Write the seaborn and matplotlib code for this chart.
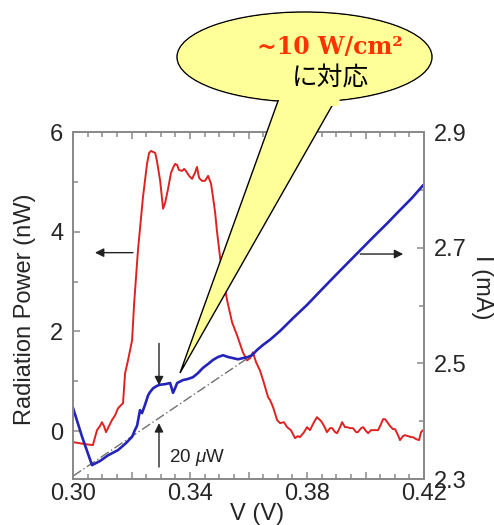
import numpy as np
import pandas as pd
import matplotlib
matplotlib.use("Agg")
import matplotlib.pyplot as plt
from matplotlib.patches import Ellipse, Polygon
from matplotlib.ticker import FixedLocator, FixedFormatter, MultipleLocator
import seaborn as sns

# ---- radiation power (left axis, nW) ----
v_power = [0.3000, 0.3041, 0.3068, 0.3082, 0.3092, 0.3099, 0.3106, 0.3113, 0.3123, 0.3133,
           0.3144, 0.3154, 0.3164, 0.3171, 0.3178, 0.3188, 0.3202, 0.3209, 0.3222, 0.3239,
           0.3253, 0.3260, 0.3267, 0.3274, 0.3281, 0.3287, 0.3298, 0.3308, 0.3315, 0.3325,
           0.3335, 0.3342, 0.3349, 0.3356, 0.3362, 0.3373, 0.3380, 0.3386, 0.3397, 0.3407,
           0.3417, 0.3424, 0.3431, 0.3441, 0.3451, 0.3462, 0.3472, 0.3479, 0.3486, 0.3492,
           0.3503, 0.3513, 0.3527, 0.3544, 0.3561, 0.3581, 0.3595, 0.3605, 0.3615, 0.3626,
           0.3639, 0.3650, 0.3660, 0.3667, 0.3674, 0.3684, 0.3698, 0.3708, 0.3721, 0.3732,
           0.3745, 0.3759, 0.3769, 0.3776, 0.3790, 0.3800, 0.3810, 0.3824, 0.3834, 0.3845,
           0.3851, 0.3862, 0.3868, 0.3879, 0.3886, 0.3896, 0.3903, 0.3913, 0.3920, 0.3930,
           0.3937, 0.3947, 0.3957, 0.3968, 0.3974, 0.3985, 0.3992, 0.4002, 0.4009, 0.4019,
           0.4026, 0.4036, 0.4043, 0.4053, 0.4060, 0.4067, 0.4077, 0.4084, 0.4094, 0.4101,
           0.4111, 0.4118, 0.4128, 0.4135, 0.4145, 0.4156, 0.4162, 0.4173, 0.4183, 0.4190,
           0.4197]
power_nw = [-0.22, -0.26, -0.28, 0.02, 0.10, 0.18, 0.10, -0.02, 0.10, 0.22,
            0.32, 0.46, 0.52, 0.56, 1.16, 1.42, 1.82, 2.56, 3.62, 4.68,
            5.36, 5.58, 5.62, 5.60, 5.58, 5.42, 5.02, 4.46, 4.58, 4.86,
            5.18, 5.28, 5.36, 5.34, 5.24, 5.22, 5.26, 5.22, 5.12, 5.06,
            5.18, 5.30, 5.08, 5.02, 5.02, 5.12, 4.96, 4.68, 4.38, 4.02,
            3.48, 3.08, 2.62, 2.18, 1.92, 1.58, 1.42, 1.46, 1.58, 1.38,
            1.22, 1.02, 0.82, 0.68, 0.62, 0.48, 0.22, 0.16, 0.18, 0.08,
            0.02, -0.14, -0.10, -0.12, -0.02, 0.08, 0.02, 0.18, 0.28, 0.22,
            0.18, 0.06, -0.02, 0.06, 0.06, -0.02, -0.04, 0.08, 0.18, 0.08,
            0.08, 0.06, 0.06, -0.02, -0.02, 0.06, 0.08, 0.00, -0.04, 0.02,
            0.02, 0.02, 0.02, 0.14, 0.24, 0.24, 0.16, 0.10, 0.04, 0.04,
            -0.08, -0.18, -0.10, -0.08, -0.10, -0.12, -0.12, -0.16, -0.18, -0.02,
            0.02]

# ---- current (right axis, mA) ----
v_current = [0.3000, 0.3031, 0.3065, 0.3092, 0.3120, 0.3154, 0.3181, 0.3202, 0.3212, 0.3219,
             0.3229, 0.3236, 0.3246, 0.3257, 0.3263, 0.3274, 0.3287, 0.3297, 0.3315, 0.3332,
             0.3342, 0.3349, 0.3356, 0.3376, 0.3393, 0.3410, 0.3427, 0.3444, 0.3462, 0.3479,
             0.3496, 0.3513, 0.3530, 0.3547, 0.3564, 0.3581, 0.3598, 0.3612, 0.3629, 0.3650,
             0.3674, 0.3708, 0.3752, 0.3800, 0.3855, 0.3903, 0.3940, 0.3981, 0.4026,
             0.4074, 0.4118, 0.4159, 0.4197]
current_ma = [2.423, 2.373, 2.324, 2.331, 2.341, 2.350, 2.362, 2.373, 2.385, 2.392,
              2.419, 2.414, 2.428, 2.445, 2.450, 2.457, 2.461, 2.463, 2.464, 2.466,
              2.449, 2.457, 2.466, 2.471, 2.473, 2.476, 2.483, 2.492, 2.499, 2.506,
              2.511, 2.514, 2.511, 2.509, 2.507, 2.509, 2.511, 2.514, 2.523, 2.532,
              2.541, 2.556, 2.578, 2.601, 2.630, 2.655, 2.674, 2.695, 2.718,
              2.742, 2.765, 2.786, 2.808]

# ohmic baseline of the I-V curve
v_base = [0.3000, 0.3612]
current_base = [2.305, 2.514]

x_ticks = [0.30, 0.32, 0.34, 0.36, 0.38, 0.40, 0.42]
x_ticklabels = ["0.30", "", "0.34", "", "0.38", "", "0.42"]
left_ticks = [0, 2, 4, 6]
right_ticks = [2.3, 2.5, 2.7, 2.9]
right_ticklabels = ["2.3", "2.5", "2.7", "2.9"]

sns.set_theme(style="white")
plt.rcParams["font.family"] = ["Liberation Sans", "DejaVu Sans"]
plt.rcParams["mathtext.fontset"] = "custom"
plt.rcParams["mathtext.it"] = "Liberation Sans:italic"
plt.rcParams["mathtext.rm"] = "Liberation Sans"

W, H = 494, 525
fig = plt.figure(figsize=(W / 100, H / 100), dpi=100)
fig.patch.set_facecolor("white")
ax = fig.add_axes([73 / W, 1 - 479 / H, 351 / W, 347 / H])
ax2 = ax.twinx()

power_df = pd.DataFrame({"V": v_power, "P": power_nw})
current_df = pd.DataFrame({"V": v_current, "I": current_ma})

sns.lineplot(data=power_df, x="V", y="P", ax=ax, color="#dd2222", lw=1.4,
             sort=False, estimator=None)
ax2.plot(v_base, current_base, color="#707070", lw=1.0, dashes=(7, 2, 1, 2))
sns.lineplot(data=current_df, x="V", y="I", ax=ax2, color="#2424b8", lw=1.9,
             sort=False, estimator=None)

ax.set_xlim(0.30, 0.42)
ax.set_ylim(-0.96, 6.0)
ax2.set_ylim(2.3, 2.9)

spine_col = "#8a8a8a"
for a in (ax, ax2):
    for s in a.spines.values():
        s.set_color(spine_col)
        s.set_linewidth(1.3)

ax.xaxis.set_major_locator(FixedLocator(x_ticks))
ax.xaxis.set_major_formatter(FixedFormatter(x_ticklabels))
ax.xaxis.set_minor_locator(MultipleLocator(0.005))
ax.yaxis.set_major_locator(FixedLocator(left_ticks))
ax.yaxis.set_minor_locator(MultipleLocator(1))
ax2.yaxis.set_major_locator(FixedLocator(right_ticks))
ax2.yaxis.set_major_formatter(FixedFormatter(right_ticklabels))
ax2.yaxis.set_minor_locator(MultipleLocator(0.1))

ax.tick_params(axis="x", which="both", direction="in", top=True, bottom=True,
               color=spine_col, labelsize=17, pad=3)
ax.tick_params(axis="y", which="both", direction="in", left=True, right=False,
               color=spine_col, labelsize=17, pad=7)
ax2.tick_params(axis="y", which="both", direction="in", right=True,
                color=spine_col, labelsize=17, pad=7)
for a in (ax, ax2):
    a.tick_params(which="major", length=5, width=1.1)
    a.tick_params(which="minor", length=3.5, width=1.1)

ax.set_xlabel("V (V)", fontsize=17)
ax.xaxis.set_label_coords(0.524, -0.068)
ax.set_ylabel("Radiation Power (nW)", fontsize=17, va="center")
ax.yaxis.set_label_coords(-0.137, 0.49)
ax2.set_ylabel("I (mA)", fontsize=17, rotation=-90, va="center", ha="center")
ax2.yaxis.set_label_coords(1.165, 0.553)

arrow = dict(arrowstyle="-|>", color="#222222", lw=1.0, mutation_scale=13,
             shrinkA=0, shrinkB=0)
ax.annotate("", xy=(0.3075, 3.58), xytext=(0.3205, 3.58), arrowprops=arrow)
ax2.annotate("", xy=(0.4129, 2.689), xytext=(0.3982, 2.689), arrowprops=arrow)
ax.annotate("", xy=(0.3294, 0.92), xytext=(0.3294, 1.76), arrowprops=arrow)
ax.annotate("", xy=(0.3294, 0.16), xytext=(0.3294, -0.72), arrowprops=arrow)
ax.text(0.3328, -0.52, r"20 $\mu$W", fontsize=13.5, va="center", ha="left",
        color="#222222")

# speech-bubble callout drawn in pixel space on top of the plot
over = fig.add_axes([0, 0, 1, 1], zorder=10)
over.set_xlim(0, W)
over.set_ylim(H, 0)
over.axis("off")
over.patch.set_alpha(0)
fill = "#ffff99"
tail = [(282, 90), (341, 90), (180, 373)]
over.add_patch(Ellipse((304.5, 57), 255, 90, facecolor=fill, edgecolor="black", lw=1.0))
over.add_patch(Polygon(tail, closed=True, facecolor=fill, edgecolor="black", lw=1.0))
over.add_patch(Ellipse((304.5, 57), 253, 88, facecolor=fill, edgecolor="none"))
over.add_patch(Polygon([(281.5, 90), (341.5, 90), (338.5, 106), (280, 106)], closed=True,
                       facecolor=fill, edgecolor="none"))
over.text(330, 47, "~10 W/cm²", fontsize=17, fontweight="bold", family="DejaVu Serif",
          color="#ff3300", ha="center", va="center")
over.text(330, 79, "に対応", fontsize=18.5, family=["Noto Sans CJK JP", "DejaVu Sans"],
          color="black", ha="center", va="center")

fig.savefig("out.png", dpi=100, facecolor="white")
